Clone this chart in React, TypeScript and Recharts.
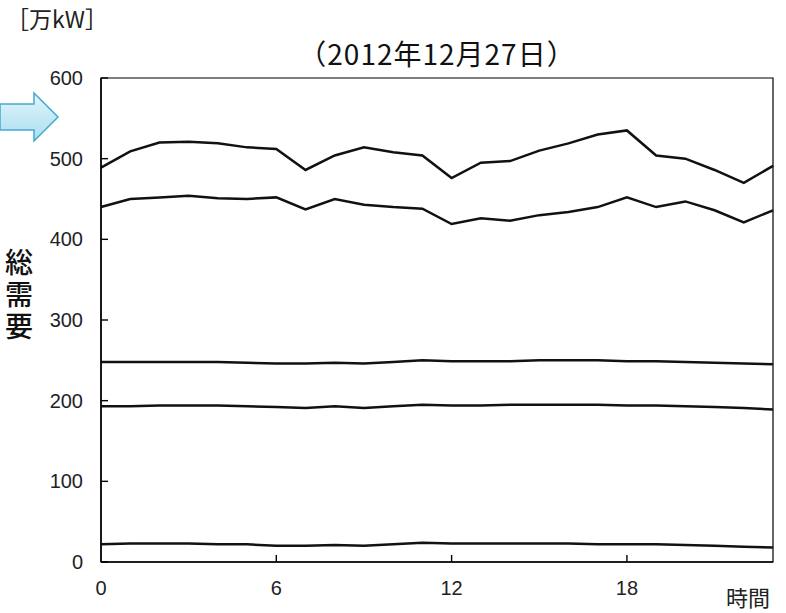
import React from 'react';
import { LineChart, Line, XAxis, YAxis, ReferenceArea } from 'recharts';

// hourly values, 万kW
const hours = [0, 1, 2, 3, 4, 5, 6, 7, 8, 9, 10, 11, 12, 13, 14, 15, 16, 17, 18, 19, 20, 21, 22, 23];
const supplyTop = [489, 509, 520, 521, 519, 514, 512, 486, 504, 514, 508, 504, 476, 495, 497, 510, 519, 530, 535, 504, 500, 486, 470, 491];
const supplySecond = [440, 450, 452, 454, 451, 450, 452, 437, 450, 443, 440, 438, 419, 426, 423, 430, 434, 440, 452, 440, 447, 436, 421, 436];
const supplyThird = [248, 248, 248, 248, 248, 247, 246, 246, 247, 246, 248, 250, 249, 249, 249, 250, 250, 250, 249, 249, 248, 247, 246, 245];
const supplyFourth = [193, 193, 194, 194, 194, 193, 192, 191, 193, 191, 193, 195, 194, 194, 195, 195, 195, 195, 194, 194, 193, 192, 191, 189];
const supplyBottom = [22, 23, 23, 23, 22, 22, 20, 20, 21, 20, 22, 24, 23, 23, 23, 23, 23, 22, 22, 22, 21, 20, 19, 18];

const xTicks = [0, 6, 12, 18];
const yTicks = [0, 100, 200, 300, 400, 500, 600];

const data = hours.map((h, i) => ({
  hour: h,
  a: supplyTop[i],
  b: supplySecond[i],
  c: supplyThird[i],
  d: supplyFourth[i],
  e: supplyBottom[i],
}));

const W = 786;
const H = 613;
const PLOT = { left: 101, top: 78, right: 773, bottom: 562 };
const JP = '"Noto Sans CJK JP", sans-serif';
const NUM = '"Liberation Sans", Arial, sans-serif';

const renderYTick = (props: any) => {
  const { y, payload } = props;
  return (
    <g key={`y-${payload.value}`}>
      <line x1={PLOT.left} x2={PLOT.left + 7} y1={y} y2={y} stroke="#000" strokeWidth={1.4} />
      <text x={83} y={y} dy={7} textAnchor="end" fontSize={20} fill="#222" fontFamily={NUM}>
        {payload.value}
      </text>
    </g>
  );
};

const renderXTick = (props: any) => {
  const { x, payload } = props;
  return (
    <g key={`x-${payload.value}`}>
      {payload.value !== 0 && (
        <line x1={x} x2={x} y1={PLOT.bottom} y2={PLOT.bottom - 7} stroke="#000" strokeWidth={1.4} />
      )}
      <text x={x} y={595} textAnchor="middle" fontSize={20} fill="#222" fontFamily={NUM}>
        {payload.value}
      </text>
    </g>
  );
};

const keys = ['a', 'b', 'c', 'd', 'e'];

export default function App() {
  return (
    <div style={{ position: 'absolute', left: 0, top: 0, width: W, height: H, background: '#fff' }}>
      <LineChart
        width={W}
        height={H}
        data={data}
        margin={{ top: PLOT.top, left: PLOT.left - 1, right: W - PLOT.right, bottom: H - PLOT.bottom - 1 }}
      >
        <ReferenceArea x1={0} x2={23} y1={0} y2={600} fill="none" stroke="#000" strokeWidth={1.2} />
        <XAxis
          dataKey="hour"
          type="number"
          domain={[0, 23]}
          ticks={xTicks}
          height={1}
          tickLine={false}
          tick={renderXTick}
          axisLine={{ stroke: '#000', strokeWidth: 1.5 }}
          interval={0}
        />
        <YAxis
          type="number"
          domain={[0, 600]}
          ticks={yTicks}
          width={1}
          tickLine={false}
          tick={renderYTick}
          axisLine={{ stroke: '#000', strokeWidth: 1.5 }}
          interval={0}
        />
        {keys.map(k => (
          <Line
            key={k}
            dataKey={k}
            type="linear"
            stroke="#111"
            strokeWidth={2.5}
            dot={false}
            activeDot={false}
            isAnimationActive={false}
          />
        ))}
      </LineChart>

      <div style={{ position: 'absolute', left: 6, top: 7, fontFamily: JP, fontSize: 23, lineHeight: 1, color: '#222' }}>
        ［万kW］
      </div>
      <div
        style={{
          position: 'absolute',
          left: PLOT.left,
          width: PLOT.right - PLOT.left,
          top: 39,
          textAlign: 'center',
          fontFamily: JP,
          fontSize: 28,
          letterSpacing: 1,
          lineHeight: 1,
          color: '#111',
        }}
      >
        （2012年12月27日）
      </div>
      <div
        style={{
          position: 'absolute',
          left: 4,
          top: 248,
          writingMode: 'vertical-rl',
          fontFamily: JP,
          fontSize: 28,
          lineHeight: '30px',
          letterSpacing: 4,
          fontWeight: 500,
          color: '#111',
        }}
      >
        総需要
      </div>
      <div style={{ position: 'absolute', left: 726, top: 585, fontFamily: JP, fontSize: 22, lineHeight: 1, color: '#222' }}>
        時間
      </div>
      <svg style={{ position: 'absolute', left: 0, top: 90 }} width={62} height={54}>
        <defs>
          <linearGradient id="arrowFill" x1="0" y1="0" x2="0" y2="1">
            <stop offset="0" stopColor="#e2f5fb" />
            <stop offset="1" stopColor="#a9def0" />
          </linearGradient>
        </defs>
        <path
          d="M0 14 L34 14 L34 3 L58 27 L34 51 L34 40 L0 40 Z"
          fill="url(#arrowFill)"
          stroke="#45a9cc"
          strokeWidth={1.5}
        />
      </svg>
    </div>
  );
}
